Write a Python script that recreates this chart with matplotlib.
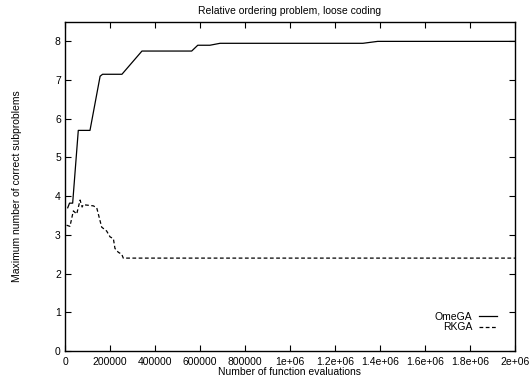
import matplotlib.pyplot as plt
from matplotlib.ticker import FuncFormatter

plt.rcParams['font.family'] = ['Liberation Sans', 'DejaVu Sans']

# values
omega_x = [12000, 20000, 34000, 59000, 111000, 156000, 167000, 253000, 342000,
           563000, 590000, 644000, 689000, 1324000, 1390000, 2000000]
omega_y = [3.70, 3.82, 3.82, 5.70, 5.70, 7.10, 7.15, 7.15, 7.75,
           7.75, 7.90, 7.90, 7.95, 7.95, 8.00, 8.00]

rkga_x = [7000, 22000, 37000, 52000, 67000, 76000, 81000, 126000, 141000,
          163000, 185000, 200000, 215000, 222000, 237000, 252000, 259000, 2000000]
rkga_y = [3.25, 3.22, 3.62, 3.54, 3.90, 3.72, 3.78, 3.75, 3.70,
          3.20, 3.10, 2.95, 2.90, 2.65, 2.55, 2.50, 2.40, 2.40]

xticks = list(range(0, 2000001, 200000))
yticks = list(range(0, 9))


def gp_fmt(v, pos):
    # gnuplot style: plain integers below 1e6, then 1e+06 etc.
    if v < 1e6:
        return '%d' % v
    return '%g' % v


fig = plt.figure(figsize=(5.29, 3.79), dpi=100)
ax = fig.add_axes([0.1229, 0.0739, 0.8506, 0.868])

ax.plot(omega_x, omega_y, color='black', lw=0.9, label='OmeGA')
ax.plot(rkga_x, rkga_y, color='black', lw=0.9, ls=(0, (3, 2)), label='RKGA')

ax.set_xlim(0, 2000000)
ax.set_ylim(0, 8.5)
ax.set_xticks(xticks)
ax.set_yticks(yticks)
ax.xaxis.set_major_formatter(FuncFormatter(gp_fmt))
ax.tick_params(direction='in', top=True, right=True, labelsize=7.5, length=4, width=0.8, pad=3)
ax.tick_params(axis='x', pad=4)
for s in ax.spines.values():
    s.set_linewidth(1.0)

ax.set_title('Relative ordering problem, loose coding', fontsize=7.5, pad=6)
ax.set_xlabel('Number of function evaluations', fontsize=7.5, labelpad=0)
ax.set_ylabel('Maximum number of correct subproblems', fontsize=7.5, labelpad=24)

ax.legend(loc='lower right', bbox_to_anchor=(0.977, 0.035), frameon=False, fontsize=7.5,
          markerfirst=False, handlelength=1.8, handletextpad=0.6, labelspacing=0.05,
          borderaxespad=0.3)

fig.savefig('out.png', dpi=100)
